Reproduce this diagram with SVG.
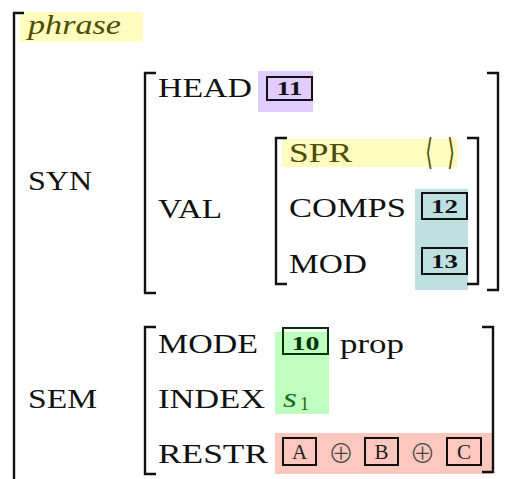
<svg xmlns="http://www.w3.org/2000/svg" width="514" height="479" viewBox="0 0 514 479">
<style>
.t{font-family:"Liberation Serif","DejaVu Serif",serif;font-size:27px;fill:#111}
.br{fill:none;stroke:#111;stroke-width:2.4}
.box{fill:none;stroke:#111;stroke-width:2}
.num{font-family:"Liberation Serif","DejaVu Serif",serif;font-size:18px;font-weight:bold;fill:#111;text-anchor:middle}
.ltr{font-family:"Liberation Serif","DejaVu Serif",serif;font-size:21px;fill:#222;text-anchor:middle}
.sym{font-family:"DejaVu Sans","DejaVu Serif",sans-serif;fill:#333;text-anchor:middle}
.op{font-family:"Noto Sans CJK JP","DejaVu Sans",sans-serif;font-weight:300;fill:#444;text-anchor:middle;font-size:26px}
</style>
<rect width="514" height="479" fill="#fff"/>
<!-- highlights -->
<rect x="20" y="12" width="123" height="30" fill="#fffcbf"/>
<rect x="258" y="71" width="55" height="41" fill="#e0ccff"/>
<rect x="282" y="139" width="176" height="28" fill="#fffcbf"/>
<rect x="415" y="189" width="53" height="101" fill="#bfe0e0"/>
<rect x="275" y="332" width="54" height="82" fill="#bfffbf"/>
<rect x="275" y="433" width="217" height="41" fill="#ffc7bd"/>

<g id="connectors">
<path class="br" d="M24,13 H14 V479"/>
<path class="br" d="M156,73 H145 V293 H156"/>
<path class="br" d="M487,73 H498 V290 H487"/>
<path class="br" d="M287,138 H276 V284 H287"/>
<path class="br" d="M467,138 H478 V284 H467"/>
<path class="br" d="M156,327 H145 V474 H156"/>
<path class="br" d="M482,327 H493 V472 H482"/>
</g>

<g id="phrase">
<text x="28" y="34" font-family="Liberation Serif, DejaVu Serif, serif" font-size="27" font-style="italic" fill="#4d4d00" textLength="93" lengthAdjust="spacingAndGlyphs">phrase</text>
</g>

<g id="syn">
<text class="t" x="28" y="190" textLength="64" lengthAdjust="spacingAndGlyphs">SYN</text>
</g>

<g id="head">
<text class="t" x="158" y="97" textLength="94" lengthAdjust="spacingAndGlyphs">HEAD</text>
<rect class="box" x="267" y="77" width="45" height="23"/>
<text class="num" x="289.5" y="95" textLength="26" lengthAdjust="spacingAndGlyphs">11</text>
</g>

<g id="val">
<text class="t" x="158" y="218" textLength="64" lengthAdjust="spacingAndGlyphs">VAL</text>
</g>

<g id="spr">
<text class="t" x="289" y="162" style="fill:#4d4d00" textLength="63" lengthAdjust="spacingAndGlyphs">SPR</text>
<text class="sym" transform="translate(429,164) scale(0.55,1)" font-size="36" style="fill:#4d4d00">⟨</text>
<text class="sym" transform="translate(451,164) scale(0.55,1)" font-size="36" style="fill:#4d4d00">⟩</text>
</g>

<g id="comps">
<text class="t" x="289" y="217" textLength="117" lengthAdjust="spacingAndGlyphs">COMPS</text>
<rect class="box" x="422" y="193" width="45" height="26"/>
<text class="num" x="444.5" y="212.5" textLength="27" lengthAdjust="spacingAndGlyphs">12</text>
</g>

<g id="mod">
<text class="t" x="289" y="273" textLength="78" lengthAdjust="spacingAndGlyphs">MOD</text>
<rect class="box" x="422" y="248" width="45" height="26"/>
<text class="num" x="444.5" y="268" textLength="27" lengthAdjust="spacingAndGlyphs">13</text>
</g>

<g id="sem">
<text class="t" x="28" y="408" textLength="69" lengthAdjust="spacingAndGlyphs">SEM</text>
</g>

<g id="mode">
<text class="t" x="158" y="353" textLength="100" lengthAdjust="spacingAndGlyphs">MODE</text>
<rect class="box" x="283" y="328" width="45" height="26" style="stroke:#003300"/>
<text class="num" x="305.5" y="349.5" style="fill:#003300" textLength="28" lengthAdjust="spacingAndGlyphs">10</text>
<text class="t" x="340" y="353" textLength="64" lengthAdjust="spacingAndGlyphs">prop</text>
</g>

<g id="index">
<text class="t" x="158" y="408" textLength="107" lengthAdjust="spacingAndGlyphs">INDEX</text>
<text x="283" y="407" font-family="Liberation Serif, DejaVu Serif, serif" font-size="27" font-style="italic" fill="#1b6b1b" textLength="14" lengthAdjust="spacingAndGlyphs">s</text>
<text x="300" y="410" font-family="Liberation Serif, DejaVu Serif, serif" font-size="18" fill="#1b6b1b" textLength="9" lengthAdjust="spacingAndGlyphs">1</text>
</g>

<g id="restr">
<text class="t" x="158" y="463" textLength="110" lengthAdjust="spacingAndGlyphs">RESTR</text>
<rect class="box" x="283" y="438" width="33" height="27"/>
<text class="ltr" x="299.5" y="459">A</text>
<text class="op" x="341" y="463">⊕</text>
<rect class="box" x="365" y="438" width="33" height="27"/>
<text class="ltr" x="381.5" y="459">B</text>
<text class="op" x="422.5" y="463">⊕</text>
<rect class="box" x="447" y="438" width="34" height="27"/>
<text class="ltr" x="464" y="459">C</text>
</g>
</svg>
